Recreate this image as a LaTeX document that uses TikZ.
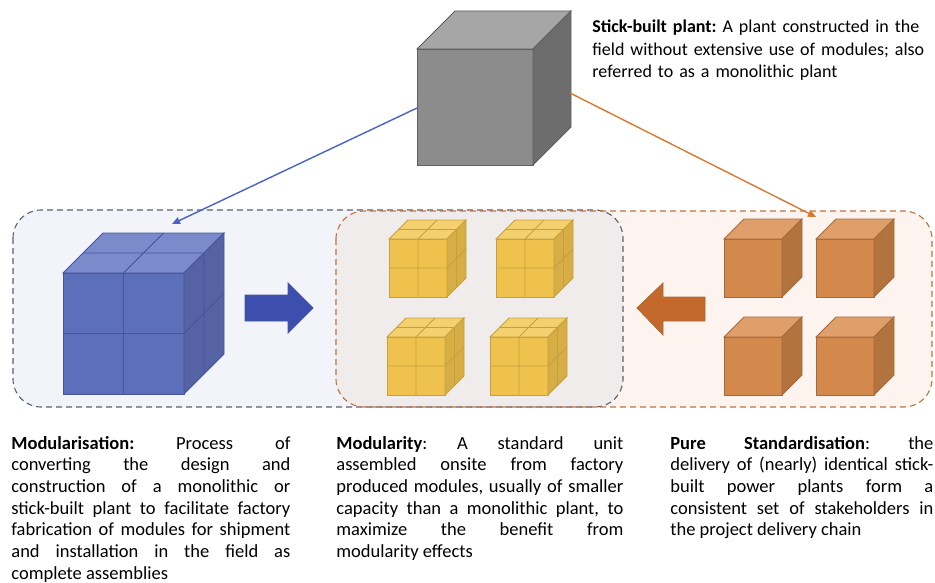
\documentclass[tikz,border=0pt]{standalone}
\usepackage{fontspec}
\setmainfont{Carlito}
\usetikzlibrary{arrows.meta}

\definecolor{bluefront}{HTML}{5D6EBA}
\definecolor{bluetop}{HTML}{7A8ACB}
\definecolor{blueside}{HTML}{5562A3}
\definecolor{blueedge}{HTML}{46559A}
\definecolor{yelfront}{HTML}{EFC24E}
\definecolor{yeltop}{HTML}{F4D06F}
\definecolor{yelside}{HTML}{D7AD45}
\definecolor{yeledge}{HTML}{C4A03F}
\definecolor{orgfront}{HTML}{D3884C}
\definecolor{orgtop}{HTML}{DF9E6A}
\definecolor{orgside}{HTML}{B2733F}
\definecolor{orgedge}{HTML}{A66A38}
\definecolor{gryfront}{HTML}{8C8C8C}
\definecolor{grytop}{HTML}{A6A6A6}
\definecolor{gryside}{HTML}{6D6D6D}
\definecolor{gryedge}{HTML}{5F5F5F}
\definecolor{modfill}{HTML}{F3F3FA}
\definecolor{stdfill}{HTML}{FDF4F0}
\definecolor{bothfill}{HTML}{F1ECEC}
\definecolor{moddash}{HTML}{5A6070}
\definecolor{stddash}{HTML}{C0733A}
\definecolor{bluearrow}{HTML}{3C4FAE}
\definecolor{orgarrow}{HTML}{C4692B}
\definecolor{blueline}{HTML}{4A62C4}
\definecolor{orgline}{HTML}{D9782F}

\newcommand{\defnfont}{\fontsize{18.5}{21.7}\selectfont\frenchspacing
  \tolerance=10000\relax\hyphenpenalty=10000\relax}
\newcommand{\plantfont}{\fontsize{18}{22.5}\selectfont\frenchspacing}

% front top-left corner, size, depth, colour set, grid
\newcommand{\plantcube}[6]{%
  \filldraw[draw=#5edge,fill=#5front] (#1,#2) rectangle ++(#3,#3);
  \filldraw[draw=#5edge,fill=#5top] (#1,#2) -- ++(#4,-#4) -- ++(#3,0) -- ++(-#4,#4) -- cycle;
  \filldraw[draw=#5edge,fill=#5side] (#1+#3,#2) -- ++(#4,-#4) -- ++(0,#3) -- ++(-#4,#4) -- cycle;
  \ifnum#6=2
    \draw[#5edge] (#1+#3/2,#2) -- ++(0,#3) (#1,#2+#3/2) -- ++(#3,0)
      (#1+#3/2,#2) -- ++(#4,-#4) (#1+#4/2,#2-#4/2) -- ++(#3,0)
      (#1+#3+#4/2,#2-#4/2) -- ++(0,#3) (#1+#3,#2+#3/2) -- ++(#4,-#4);
  \fi}

\begin{document}
\begin{tikzpicture}[x=1pt,y=-1pt,line width=0.8pt,
    defn/.style={anchor=base west,inner sep=0pt,align=justify,font=\defnfont},
    groupbox/.style={dash pattern=on 6pt off 4pt,line width=1.1pt,rounded corners=28pt},
    tie/.style={line width=1.4pt,-{Triangle[length=8pt,width=7pt]}}]
  \useasboundingbox (0,0) rectangle (935,583);

  % group backgrounds
  \fill[modfill,rounded corners=28pt] (13,210) rectangle (623,407);
  \fill[stdfill,rounded corners=28pt] (336,211) rectangle (932,407);
  \begin{scope}
    \clip[rounded corners=28pt] (13,210) rectangle (623,407);
    \fill[bothfill,rounded corners=28pt] (336,211) rectangle (932,407);
  \end{scope}
  \draw[groupbox,moddash] (13,210) rectangle (623,407);
  \draw[groupbox,stddash] (336,211) rectangle (932,407);

  % stick-built plant
  \plantcube{417}{49}{116}{38}{gry}{1}
  \coordinate (plantW) at (417,108);
  \coordinate (plantE) at (570,93);
  \coordinate (modN) at (172,224);
  \coordinate (stdN) at (816,217);
  \draw[tie,blueline] (plantW) -- (modN);
  \draw[tie,orgline] (plantE) -- (stdN);

  % modularised plant
  \plantcube{63}{273}{121}{40}{blue}{2}
  \filldraw[fill=bluearrow,draw=blueedge] (245,295) -- (288,295) -- (288,283) -- (313,308)
    -- (288,333) -- (288,321) -- (245,321) -- cycle;

  % modules
  \plantcube{389}{239}{58}{19}{yel}{2}
  \plantcube{496}{239}{58}{19}{yel}{2}
  \plantcube{387}{337}{58}{19}{yel}{2}
  \plantcube{490}{337}{58}{19}{yel}{2}

  % standardised plants
  \filldraw[fill=orgarrow,draw=orgedge] (637,308) -- (663,283) -- (663,297) -- (705,297)
    -- (705,321) -- (663,321) -- (663,335) -- cycle;
  \plantcube{724}{239}{58}{20}{org}{1}
  \plantcube{816}{239}{58}{20}{org}{1}
  \plantcube{724}{337}{58}{20}{org}{1}
  \plantcube{816}{337}{58}{20}{org}{1}

  % definitions
  \node[defn,align=left,text width=360pt,font=\plantfont] (stickdef) at (592,33)
    {\textbf{Stick-built plant:} A plant constructed in the\\
     field without extensive use of modules; also\\
     referred to as a monolithic plant};
  \node[defn,text width=279pt] (moddef) at (11,449)
    {\textbf{Modularisation:} Process of\linebreak
     converting the design and\linebreak
     construction of a monolithic or\linebreak
     stick-built plant to facilitate factory\linebreak
     fabrication of modules for shipment\linebreak
     and installation in the field as\linebreak
     complete assemblies};
  \node[defn,text width=287pt] (unitdef) at (336,449)
    {\textbf{Modularity}: A standard unit\linebreak
     assembled onsite from factory\linebreak
     produced modules, usually of smaller\linebreak
     capacity than a monolithic plant, to\linebreak
     maximize the benefit from\linebreak
     modularity effects};
  \node[defn,text width=263pt] (stddef) at (670,449)
    {\textbf{Pure Standardisation}: the\linebreak
     delivery of (nearly) identical stick-\linebreak
     built power plants form a\linebreak
     consistent set of stakeholders in\linebreak
     the project delivery chain};
\end{tikzpicture}
\end{document}
